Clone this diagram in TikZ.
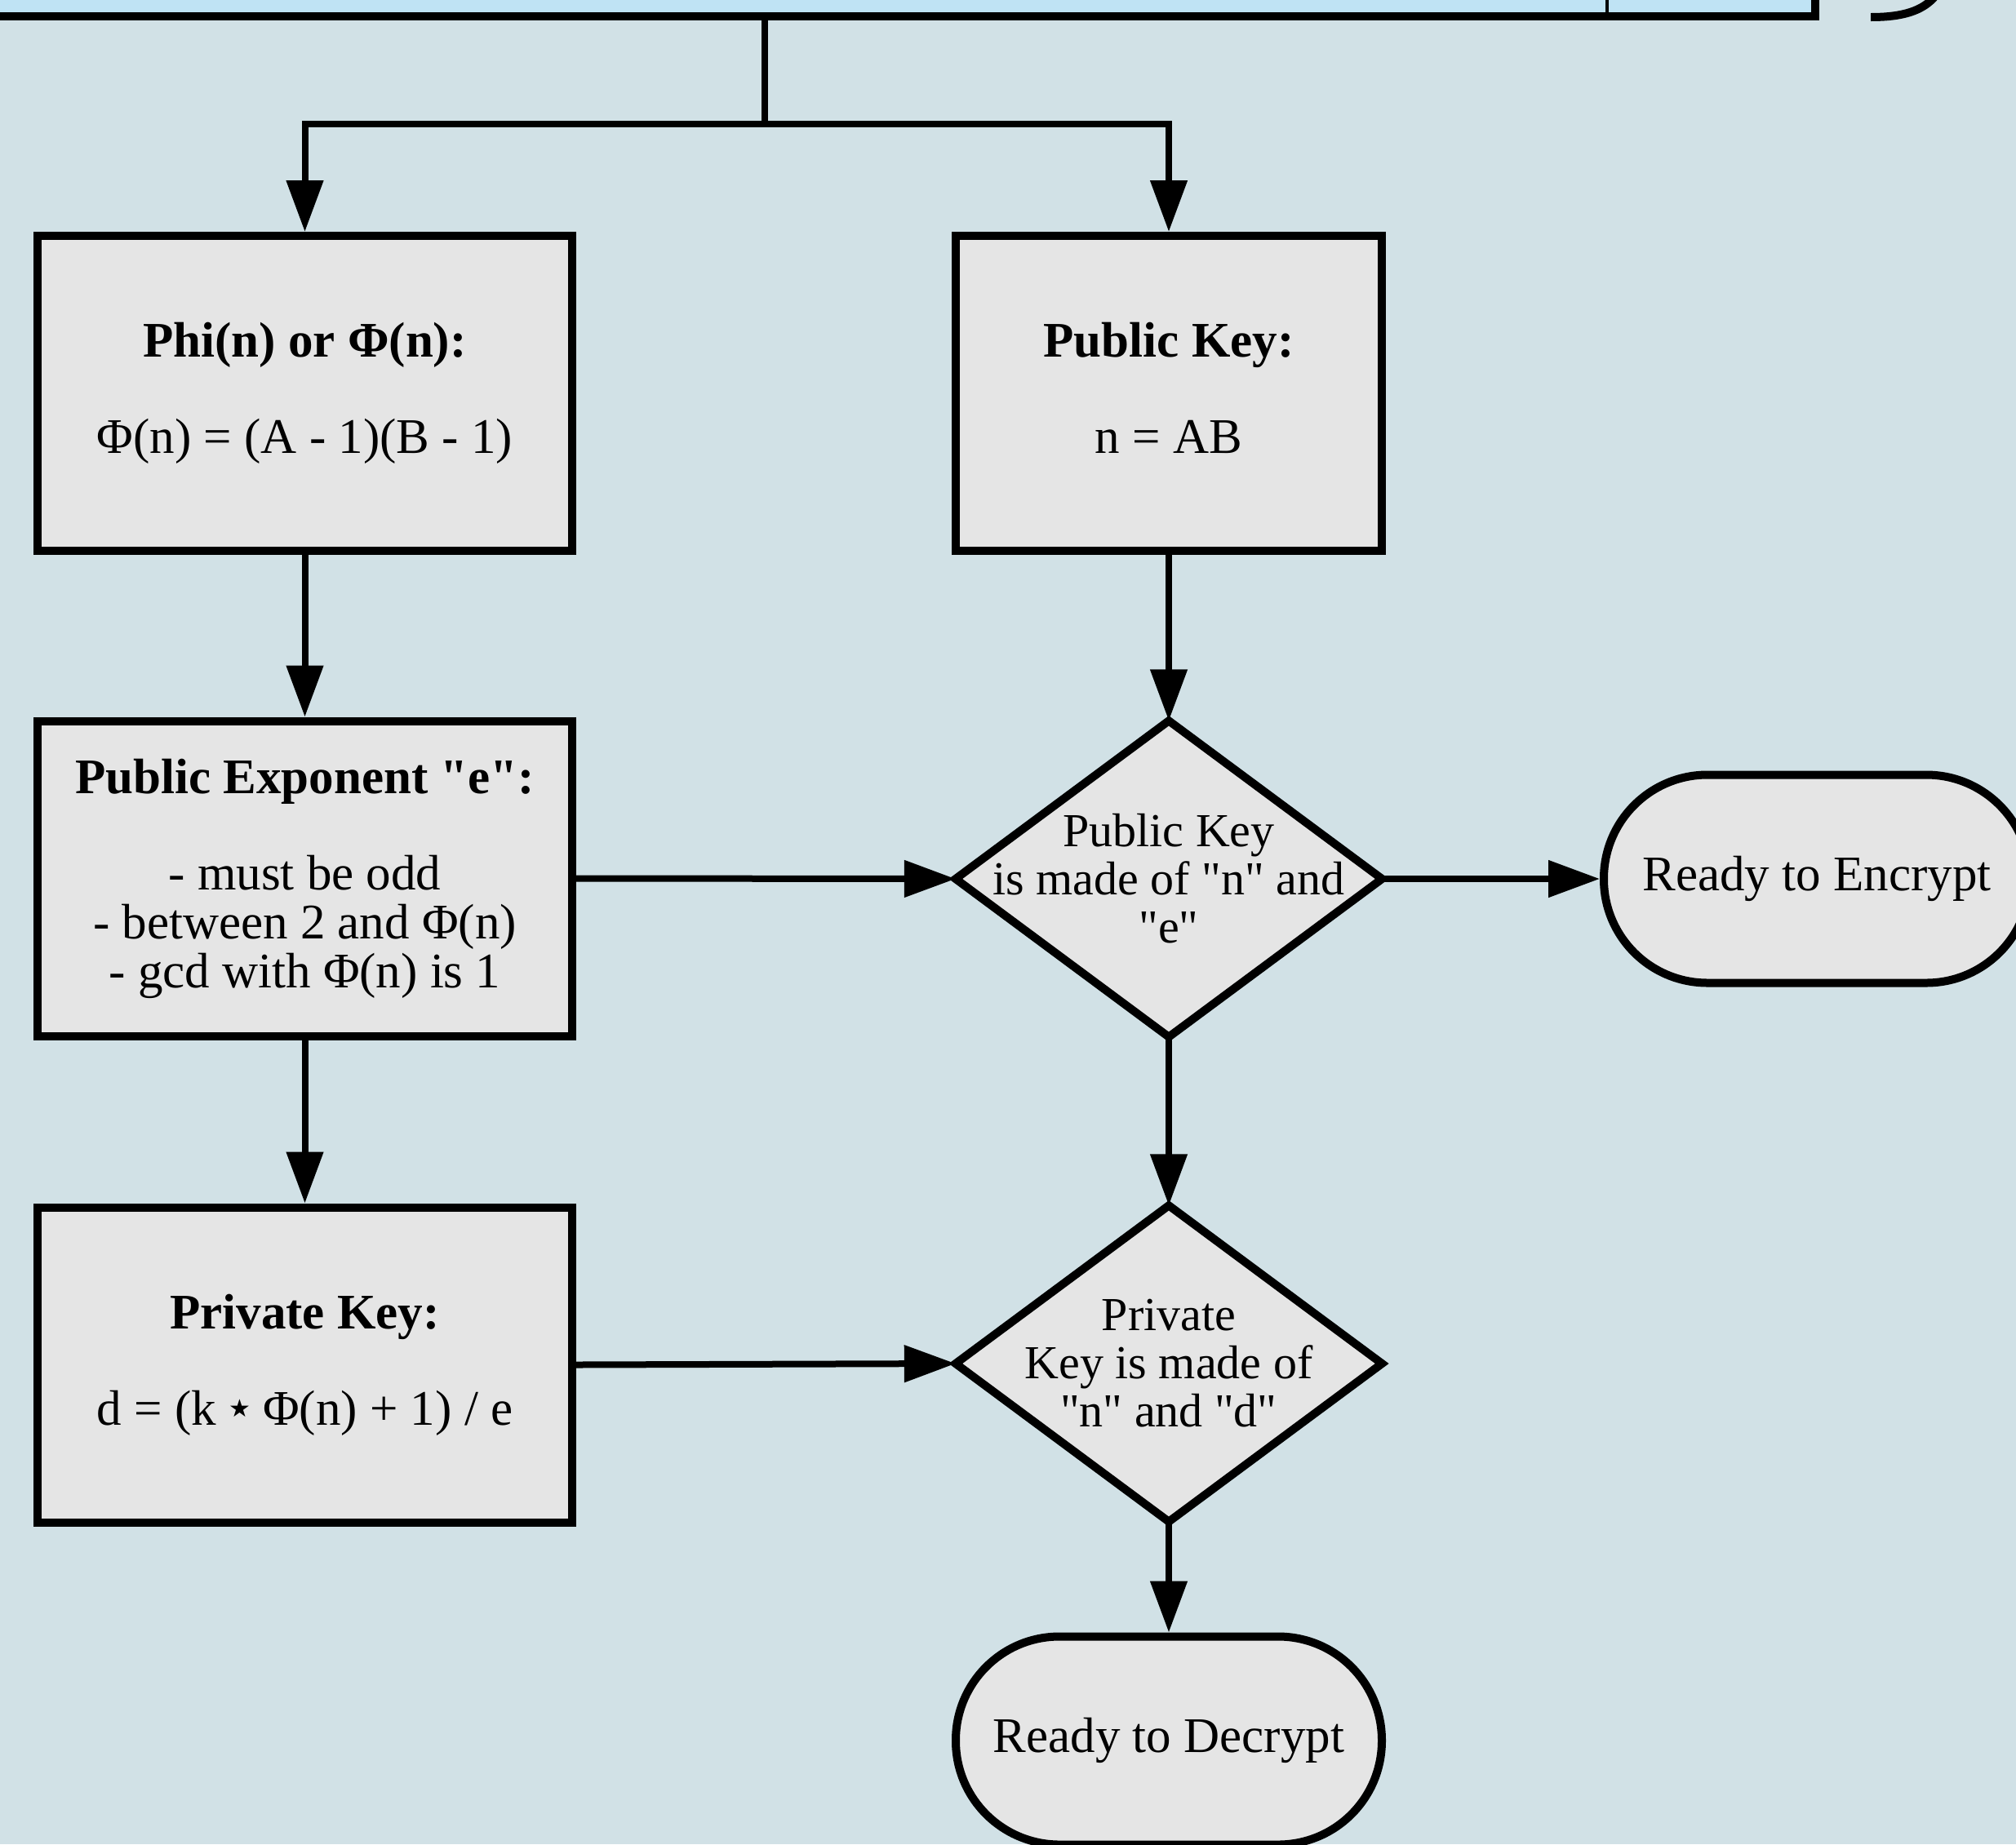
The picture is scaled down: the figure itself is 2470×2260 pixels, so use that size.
\documentclass[tikz,border=0pt]{standalone}
\usepackage{fontspec}
\setmainfont{Liberation Serif}
\newfontfamily\symfont{DejaVu Sans}
\usetikzlibrary{arrows.meta}
\definecolor{bgc}{RGB}{209,225,230}
\definecolor{boxc}{RGB}{229,229,229}
\definecolor{topc}{RGB}{191,227,244}
\newcommand\qd{\textquotedbl}
\newcommand\smallstar{\raisebox{10pt}{\symfont\fontsize{30}{30}\selectfont ★}}
\pgfdeclarelayer{bg}
\pgfdeclarelayer{mid}
\pgfsetlayers{bg,mid,main}
\begin{document}
\begin{tikzpicture}[x=1pt,y=-1pt,
  txt/.style={font=\fontsize{61}{60}\selectfont, align=center},
  procbox/.style={txt, draw=black, fill=boxc, line width=10pt, minimum width=655pt, minimum height=386pt, inner sep=0pt},
  keybox/.style={procbox, minimum width=522pt},
  dtext/.style={txt, font=\fontsize{58}{59}\selectfont, minimum width=522pt, minimum height=387pt, inner sep=0pt},
  dshape/.style={draw=black, fill=boxc, line width=10pt, line join=miter},
  term/.style={txt, draw=black, fill=boxc, line width=10pt, rounded corners=127pt, minimum width=522pt, minimum height=255pt, inner sep=0pt},
  conn/.style={line width=8pt, -{Triangle[length=63pt,width=44pt]}},
  plain/.style={line width=8pt},
  topbox/.style={draw=black, fill=topc, line width=10pt, minimum width=2300pt, minimum height=120pt, inner sep=0pt},
]
\useasboundingbox (0,0) rectangle (2470,2260);
\begin{pgfonlayer}{bg}
\fill[bgc] (0,0) rectangle (2470,2260);
\end{pgfonlayer}

% top (cut-off) box
\node (top) [topbox] at (1074,-40.5) {};
\coordinate (dv) at (1969,-10);
\draw[line width=3.5pt] (dv) -- (dv |- top.south);
% fragment at top right
\draw[line width=10pt] (2372,-6) .. controls (2356,14) and (2330,21) .. (2292,21);

% boxes
\node (phi) [procbox] at (373.5,482) {\textbf{Phi(n) or Φ(n):}\\[58pt]Φ(n) = (A - 1)(B - 1)};
\node (pk) [keybox] at (1432,482) {\textbf{Public Key:}\\[58pt]n = AB\vphantom{()}};
\node (pe) [procbox] at (373.5,1076.5) {\textbf{Public Exponent \qd e\qd:}\\[58pt]- must be odd\\- between 2 and Φ(n)\\- gcd with Φ(n) is 1};
\node (prk) [procbox] at (373.5,1672.5) {\textbf{Private Key:}\\[58pt]d = (k \smallstar\ Φ(n) + 1) / e};

% diamonds
\node (d1) [dtext] at (1432,1077) {Public Key\\is made of \qd n\qd\ and\\\qd e\qd};
\node (d2) [dtext] at (1432,1671) {Private\\Key is made of\\\qd n\qd\ and \qd d\qd};
\begin{pgfonlayer}{mid}
\draw[dshape] (d1.north) -- (d1.east) -- (d1.south) -- (d1.west) -- cycle;
\draw[dshape] (d2.north) -- (d2.east) -- (d2.south) -- (d2.west) -- cycle;
\end{pgfonlayer}

% terminators
\node (enc) [term] at (2226,1077) {Ready to Encrypt};
\node (dec) [term] at (1432,2133) {Ready to Decrypt};

% connectors
\coordinate (split) at (937,151.5);
\draw[plain] (top.south -| split) -- (split);
\draw[conn] (split) -| (phi.north);
\draw[conn] (split) -| (pk.north);
\draw[conn] (phi.south) -- (pe.north);
\draw[conn] (pe.south) -- (prk.north);
\draw[conn] (pk.south) -- (d1.north);
\draw[conn] (pe.east) -- (d1.west);
\draw[conn] (d1.east) -- (enc.west);
\draw[conn] (d1.south) -- (d2.north);
\draw[conn] (prk.east) -- (d2.west);
\draw[conn] (d2.south) -- (dec.north);
\end{tikzpicture}
\end{document}
